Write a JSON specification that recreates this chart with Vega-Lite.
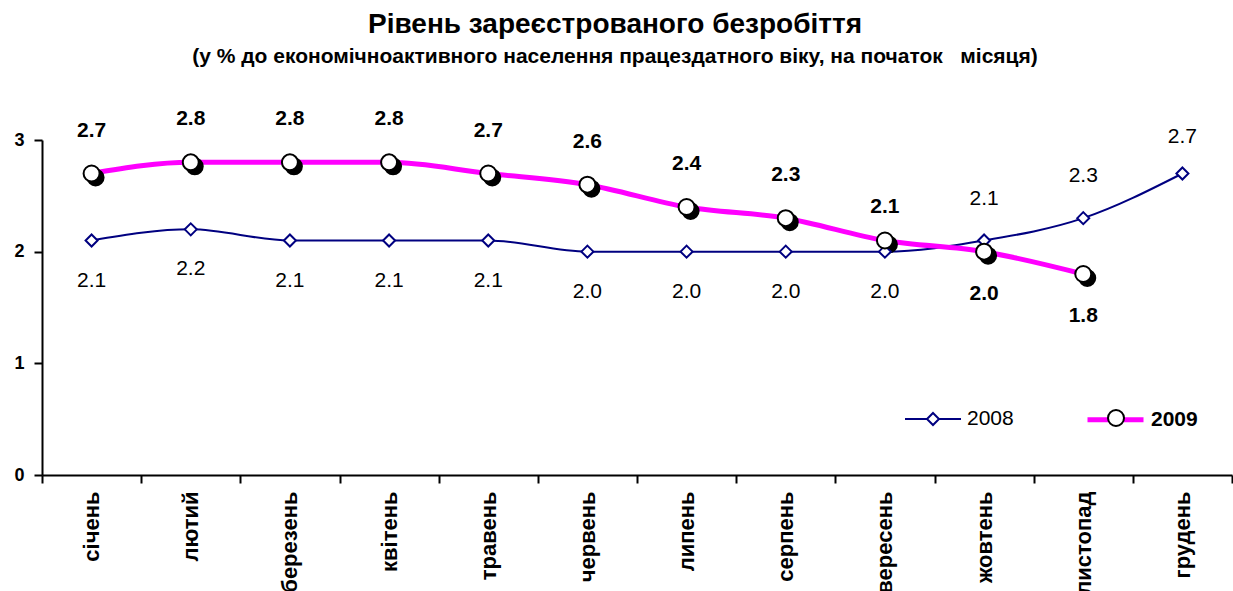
{
  "$schema": "https://vega.github.io/schema/vega-lite/v6.json",
  "width": 1190,
  "height": 335,
  "autosize": {"type": "none"},
  "padding": {"left": 42, "top": 140, "right": 1, "bottom": 116},
  "background": "white",
  "config": {
    "view": {"stroke": null},
    "font": "Liberation Sans"
  },
  "title": {
    "text": "Рівень зареєстрованого безробіття",
    "subtitle": "(у % до економічноактивного населення працездатного віку, на початок \u00a0 місяця)",
    "font": "Liberation Sans",
    "subtitleFont": "Liberation Sans",
    "fontSize": 28,
    "fontWeight": "bold",
    "subtitleFontSize": 21,
    "subtitleFontWeight": "bold",
    "color": "black",
    "subtitleColor": "black",
    "anchor": "middle",
    "dx": -22,
    "offset": 41,
    "subtitlePadding": 7
  },
  "data": {
    "values": [
      {"month": "січень", "series": "2008", "value": 2.1},
      {"month": "лютий", "series": "2008", "value": 2.2},
      {"month": "березень", "series": "2008", "value": 2.1},
      {"month": "квітень", "series": "2008", "value": 2.1},
      {"month": "травень", "series": "2008", "value": 2.1},
      {"month": "червень", "series": "2008", "value": 2.0},
      {"month": "липень", "series": "2008", "value": 2.0},
      {"month": "серпень", "series": "2008", "value": 2.0},
      {"month": "вересень", "series": "2008", "value": 2.0},
      {"month": "жовтень", "series": "2008", "value": 2.1},
      {"month": "листопад", "series": "2008", "value": 2.3},
      {"month": "грудень", "series": "2008", "value": 2.7},
      {"month": "січень", "series": "2009", "value": 2.7},
      {"month": "лютий", "series": "2009", "value": 2.8},
      {"month": "березень", "series": "2009", "value": 2.8},
      {"month": "квітень", "series": "2009", "value": 2.8},
      {"month": "травень", "series": "2009", "value": 2.7},
      {"month": "червень", "series": "2009", "value": 2.6},
      {"month": "липень", "series": "2009", "value": 2.4},
      {"month": "серпень", "series": "2009", "value": 2.3},
      {"month": "вересень", "series": "2009", "value": 2.1},
      {"month": "жовтень", "series": "2009", "value": 2.0},
      {"month": "листопад", "series": "2009", "value": 1.8}
    ]
  },
  "encoding": {
    "x": {
      "field": "month",
      "type": "ordinal",
      "sort": ["січень", "лютий", "березень", "квітень", "травень", "червень", "липень", "серпень", "вересень", "жовтень", "листопад", "грудень"],
      "bandPosition": 0.5,
      "scale": {"type": "band", "paddingInner": 0, "paddingOuter": 0},
      "axis": {
        "title": null,
        "labelAngle": -90,
        "labelAlign": "right",
        "labelBaseline": "middle",
        "labelFontWeight": "bold",
        "labelFontSize": 22,
        "labelColor": "black",
        "labelPadding": 8,
        "tickBand": "extent",
        "tickSize": 8,
        "tickColor": "black",
        "tickWidth": 2,
        "domainColor": "black",
        "domainWidth": 2,
        "grid": false
      }
    },
    "y": {
      "field": "value",
      "type": "quantitative",
      "scale": {"domain": [0, 3], "nice": false},
      "axis": {
        "title": null,
        "values": [0, 1, 2, 3],
        "labelFontWeight": "bold",
        "labelFontSize": 18,
        "labelColor": "black",
        "labelPadding": 10,
        "tickSize": 8,
        "tickColor": "black",
        "tickWidth": 2,
        "domainColor": "black",
        "domainWidth": 2,
        "grid": false
      }
    }
  },
  "layer": [
    {
      "mark": {"type": "line", "interpolate": "monotone"},
      "encoding": {
        "color": {
          "field": "series",
          "type": "nominal",
          "scale": {"domain": ["2008", "2009"], "range": ["#000080", "#FF00FF"]},
          "legend": {
            "title": null,
            "orient": "none",
            "legendX": 862,
            "legendY": 249,
            "direction": "horizontal",
            "symbolType": "M-1,0H1",
            "symbolSize": 3136,
            "labelFontSize": 21,
            "labelColor": "black",
            "labelOffset": 5,
            "columnPadding": 63,
            "padding": 0,
            "encode": {"labels": {"update": {"fontWeight": {"signal": "datum.value == '2009' ? 'bold' : 'normal'"}}}}
          }
        },
        "strokeWidth": {
          "field": "series",
          "type": "ordinal",
          "scale": {"domain": ["2008", "2009"], "range": [2, 5]},
          "legend": {
            "title": null,
            "orient": "none",
            "legendX": 862,
            "legendY": 249,
            "direction": "horizontal",
            "symbolType": "M-1,0H1",
            "symbolSize": 3136,
            "labelFontSize": 21,
            "labelColor": "black",
            "labelOffset": 5,
            "columnPadding": 63,
            "padding": 0,
            "encode": {"labels": {"update": {"fontWeight": {"signal": "datum.value == '2009' ? 'bold' : 'normal'"}}}}
          }
        }
      }
    },
    {
      "transform": [{"filter": "datum.series == '2009'"}],
      "mark": {
        "type": "point",
        "shape": "M-1,0M1,0M-0.2857,0A0.2857,0.2857,0,1,0,0.2857,0A0.2857,0.2857,0,1,0,-0.2857,0Z",
        "size": 3136,
        "filled": true,
        "fill": "black",
        "stroke": "black",
        "strokeWidth": 2,
        "opacity": 1,
        "xOffset": 4,
        "yOffset": 4
      }
    },
    {
      "mark": {"type": "point", "size": 3136, "filled": true, "fill": "white", "strokeWidth": 2, "opacity": 1},
      "encoding": {
        "shape": {
          "field": "series",
          "type": "nominal",
          "scale": {"range": ["M-1,0M1,0M0,-0.2143L0.2143,0L0,0.2143L-0.2143,0Z", "M-1,0M1,0M-0.2857,0A0.2857,0.2857,0,1,0,0.2857,0A0.2857,0.2857,0,1,0,-0.2857,0Z"]},
          "legend": {
            "title": null,
            "orient": "none",
            "legendX": 862,
            "legendY": 249,
            "direction": "horizontal",
            "symbolSize": 3136,
            "symbolFillColor": "white",
            "symbolStrokeWidth": 2,
            "labelExpr": "''",
            "labelFontSize": 21,
            "labelOffset": 5,
            "columnPadding": 117,
            "padding": 0
          }
        },
        "stroke": {
          "field": "series",
          "type": "nominal",
          "scale": {"range": ["#000080", "#000000"]},
          "legend": {
            "title": null,
            "orient": "none",
            "legendX": 862,
            "legendY": 249,
            "direction": "horizontal",
            "symbolSize": 3136,
            "symbolFillColor": "white",
            "symbolStrokeWidth": 2,
            "labelExpr": "''",
            "labelFontSize": 21,
            "labelOffset": 5,
            "columnPadding": 117,
            "padding": 0
          }
        }
      }
    },
    {
      "transform": [
        {"filter": "datum.series == '2008'"},
        {"filter": {"field": "month", "oneOf": ["січень", "лютий", "березень", "квітень", "травень", "червень", "липень", "серпень", "вересень"]}}
      ],
      "mark": {"type": "text", "dy": 40, "fontSize": 21, "color": "black"},
      "encoding": {"text": {"field": "value", "type": "quantitative", "format": ".1f"}}
    },
    {
      "transform": [
        {"filter": "datum.series == '2008'"},
        {"filter": {"field": "month", "oneOf": ["жовтень", "листопад"]}}
      ],
      "mark": {"type": "text", "dy": -42, "fontSize": 21, "color": "black"},
      "encoding": {"text": {"field": "value", "type": "quantitative", "format": ".1f"}}
    },
    {
      "transform": [
        {"filter": "datum.series == '2008'"},
        {"filter": {"field": "month", "oneOf": ["грудень"]}}
      ],
      "mark": {"type": "text", "dy": -37, "fontSize": 21, "color": "black"},
      "encoding": {"text": {"field": "value", "type": "quantitative", "format": ".1f"}}
    },
    {
      "transform": [
        {"filter": "datum.series == '2009'"},
        {"filter": {"field": "month", "oneOf": ["січень", "лютий", "березень", "квітень", "травень", "червень", "липень", "серпень"]}}
      ],
      "mark": {"type": "text", "dy": -43, "fontSize": 21, "fontWeight": "bold", "color": "black"},
      "encoding": {"text": {"field": "value", "type": "quantitative", "format": ".1f"}}
    },
    {
      "transform": [
        {"filter": "datum.series == '2009'"},
        {"filter": {"field": "month", "oneOf": ["вересень"]}}
      ],
      "mark": {"type": "text", "dy": -34, "fontSize": 21, "fontWeight": "bold", "color": "black"},
      "encoding": {"text": {"field": "value", "type": "quantitative", "format": ".1f"}}
    },
    {
      "transform": [
        {"filter": "datum.series == '2009'"},
        {"filter": {"field": "month", "oneOf": ["жовтень", "листопад"]}}
      ],
      "mark": {"type": "text", "dy": 42, "fontSize": 21, "fontWeight": "bold", "color": "black"},
      "encoding": {"text": {"field": "value", "type": "quantitative", "format": ".1f"}}
    }
  ]
}
